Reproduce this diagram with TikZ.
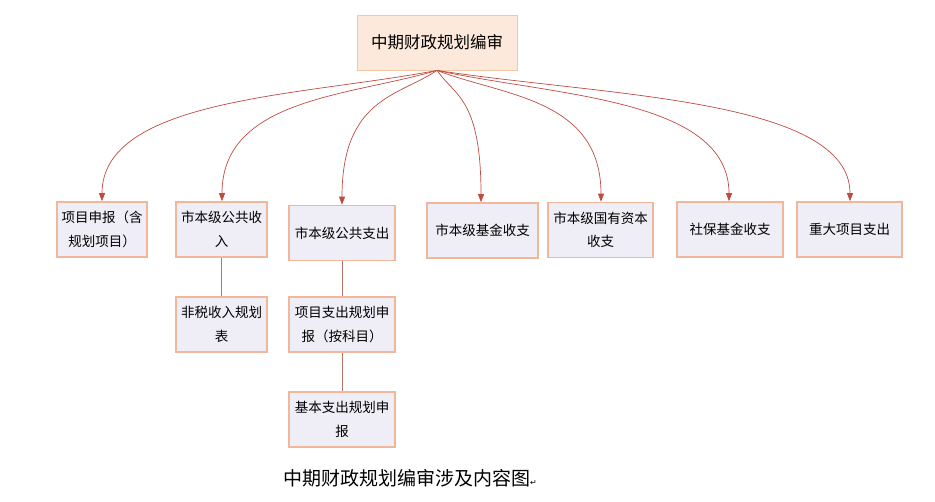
\documentclass[tikz,border=0pt]{standalone}
\usepackage{fontspec}
\setmainfont{Noto Sans CJK SC}
\newfontfamily\markfont{DejaVu Sans}
\usetikzlibrary{arrows.meta}
\definecolor{topfill}{HTML}{FCE9DC}
\definecolor{topline}{HTML}{F5C6A5}
\definecolor{boxfill}{HTML}{EFEEF6}
\definecolor{boxline}{HTML}{F1B79C}
\definecolor{arrred}{HTML}{BE4B40}
\definecolor{linkred}{HTML}{B77266}
\tikzset{
  topbox/.style={draw=topline,fill=topfill,line width=.8pt,minimum width=160,minimum height=55,inner sep=0pt,font=\fontsize{16.5}{20}\selectfont},
  subbox/.style={draw=boxline,fill=boxfill,line width=1.6pt,minimum height=55,inner sep=0pt,align=center,font=\fontsize{13.5}{23.5}\selectfont},
  arr/.style={draw=arrred,line width=.7pt,-{Triangle[length=8,width=6]}},
  link/.style={draw=linkred,line width=.8pt}
}
\begin{document}
\begin{tikzpicture}[x=1pt,y=-1pt]
\useasboundingbox (0,0) rectangle (935,502);
\node[topbox] (zq) at (437,42.5){中期财政规划编审};
% first row
\foreach \n/\x/\y/\w/\t in {xm/102/229.5/90/项目申报（含\\规划项目）,sr/221.5/229.5/91/市本级公共收\\入,zc/342/233/106/市本级公共支出,jj/482.5/230.5/111/市本级基金收支,gy/600.5/230/105/市本级国有资本\\收支,sb/730/229.5/106/社保基金收支,zd/849.5/229.5/105/重大项目支出}{\node[subbox,minimum width=\w] (\n) at (\x,\y){\t};}
\node[subbox,minimum width=91] (fs) at (221.5,324.5){非税收入规划\\表};
\node[subbox,minimum width=106] (xz) at (342,324.5){项目支出规划申\\报（按科目）};
\node[subbox,minimum width=106] (jb) at (342,419.5){基本支出规划申\\报};
\foreach \n/\x in {xm/102,sr/222,zc/342,jj/481,gy/601,sb/729,zd/850}{\draw[arr] (zq.south) .. controls ({437+(\x-437)*.4},96) and (\x,98) .. (\n.north-|\x,0);}
\draw[link] (sr.south) -- (fs.north);
\draw[link] (zc.south) -- (xz.north);
\draw[link] (xz.south) -- (jb.north);
\node[font=\fontsize{19}{22}\selectfont] (cap) at (410,478){中期财政规划编审涉及内容图{\markfont\fontsize{8}{10}\selectfont↵}};
\end{tikzpicture}
\end{document}
